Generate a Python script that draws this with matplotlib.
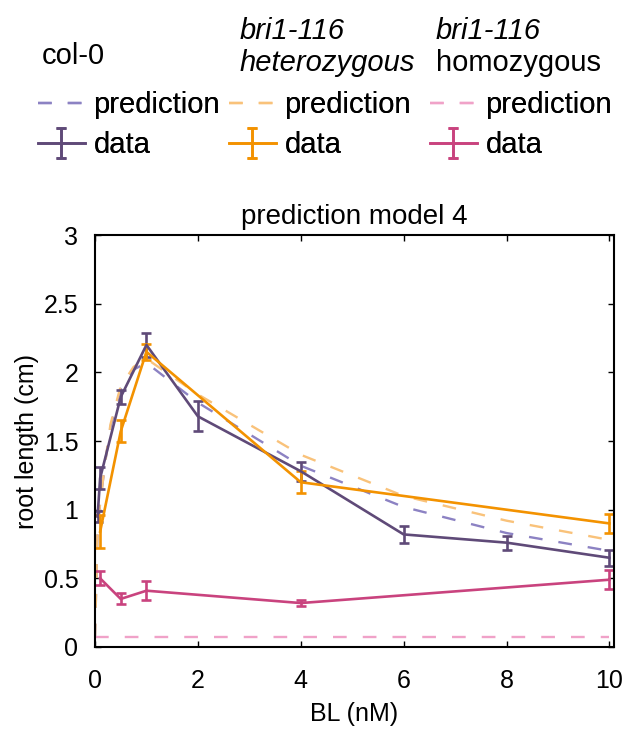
import numpy as np
import matplotlib
matplotlib.use("Agg")
import matplotlib.pyplot as plt

plt.rcParams["font.family"] = ["Liberation Sans", "DejaVu Sans"]

# Measured root length (cm) against brassinolide concentration (nM)
col0_x = [0.05, 0.1, 0.5, 1, 2, 4, 6, 8, 10]
col0_y = [0.95, 1.23, 1.82, 2.2, 1.68, 1.28, 0.82, 0.76, 0.65]
col0_err = [0.04, 0.08, 0.05, 0.09, 0.11, 0.07, 0.06, 0.05, 0.06]

het_x = [0.1, 0.5, 1, 4, 10]
het_y = [0.84, 1.57, 2.15, 1.2, 0.9]
het_err = [0.12, 0.08, 0.06, 0.08, 0.07]

hom_x = [0.1, 0.5, 1, 4, 10]
hom_y = [0.5, 0.35, 0.41, 0.32, 0.49]
hom_err = [0.05, 0.04, 0.07, 0.02, 0.07]

# Model 4 predictions
pred_x = [0, 0.05, 0.1, 0.2, 0.3, 0.5, 0.75, 1, 2, 4, 6, 8, 10]
col0_pred = [0.07, 0.85, 1.05, 1.35, 1.6, 1.88, 2.02, 2.07, 1.78, 1.32, 1.02, 0.83, 0.70]
het_pred = [0.07, 0.85, 1.05, 1.35, 1.62, 1.9, 2.04, 2.1, 1.84, 1.40, 1.10, 0.92, 0.78]
hom_pred = [0.07] * len(pred_x)

c_col0, c_col0_p = "#5f4a78", "#8c82c3"
c_het, c_het_p = "#f39200", "#f9c27a"
c_hom, c_hom_p = "#c9437e", "#f0a2c8"

fig = plt.figure(figsize=(6.27, 7.29), dpi=100)
ax = fig.add_axes([0.1515, 0.1125, 0.827, 0.565])

dash = (5.8, 6.8)
p1, = ax.plot(pred_x, col0_pred, color=c_col0_p, lw=1.7, dashes=dash)
p2, = ax.plot(pred_x, het_pred, color=c_het_p, lw=1.7, dashes=dash)
p3, = ax.plot(pred_x, hom_pred, color=c_hom_p, lw=1.7, dashes=dash)

eb = dict(lw=1.9, elinewidth=1.9, capsize=3.8, capthick=1.9)
d1 = ax.errorbar(col0_x, col0_y, yerr=col0_err, color=c_col0, **eb)
d2 = ax.errorbar(het_x, het_y, yerr=het_err, color=c_het, **eb)
d3 = ax.errorbar(hom_x, hom_y, yerr=hom_err, color=c_hom, **eb)

ax.set_xlim(0, 10.08)
ax.set_ylim(0, 3)
ax.set_xticks([0, 2, 4, 6, 8, 10])
ax.set_yticks([0, 0.5, 1, 1.5, 2, 2.5, 3])
ax.set_yticklabels(["0", "0.5", "1", "1.5", "2", "2.5", "3"])
ax.tick_params(direction="in", length=4.5, width=1, labelsize=18,
               top=True, right=True)
ax.tick_params(axis="x", pad=16)
ax.tick_params(axis="y", pad=12)
for s in ax.spines.values():
    s.set_linewidth(1.5)

ax.set_xlabel("BL (nM)", fontsize=18, labelpad=6)
ax.set_ylabel("root length (cm)", fontsize=18, labelpad=3)
ax.set_title("prediction model 4", fontsize=20, pad=8)

# Legend: one column per genotype, headers as separate text
leg_kw = dict(loc="upper left", frameon=False, fontsize=21, borderpad=0,
              borderaxespad=0, handlelength=1.6, handletextpad=0.3,
              labelspacing=0.42)
ytop = 1 - 91 / 729
for xl, hp, hd in [(38, p1, d1), (229, p2, d2), (430, p3, d3)]:
    fig.add_artist(fig.legend([hp, hd], ["prediction", "data"],
                              bbox_to_anchor=(xl / 627, ytop), **leg_kw))

fig.text(42 / 627, 1 - 56 / 729, "col-0", fontsize=21, va="center")
fig.text(240 / 627, 1 - 31 / 729, "bri1-116", fontsize=21, va="center",
         style="italic")
fig.text(240 / 627, 1 - 63 / 729, "heterozygous", fontsize=21, va="center",
         style="italic")
fig.text(436 / 627, 1 - 31 / 729, "bri1-116", fontsize=21, va="center",
         style="italic")
fig.text(436 / 627, 1 - 63 / 729, "homozygous", fontsize=21, va="center")

fig.savefig("out.png", dpi=100)
